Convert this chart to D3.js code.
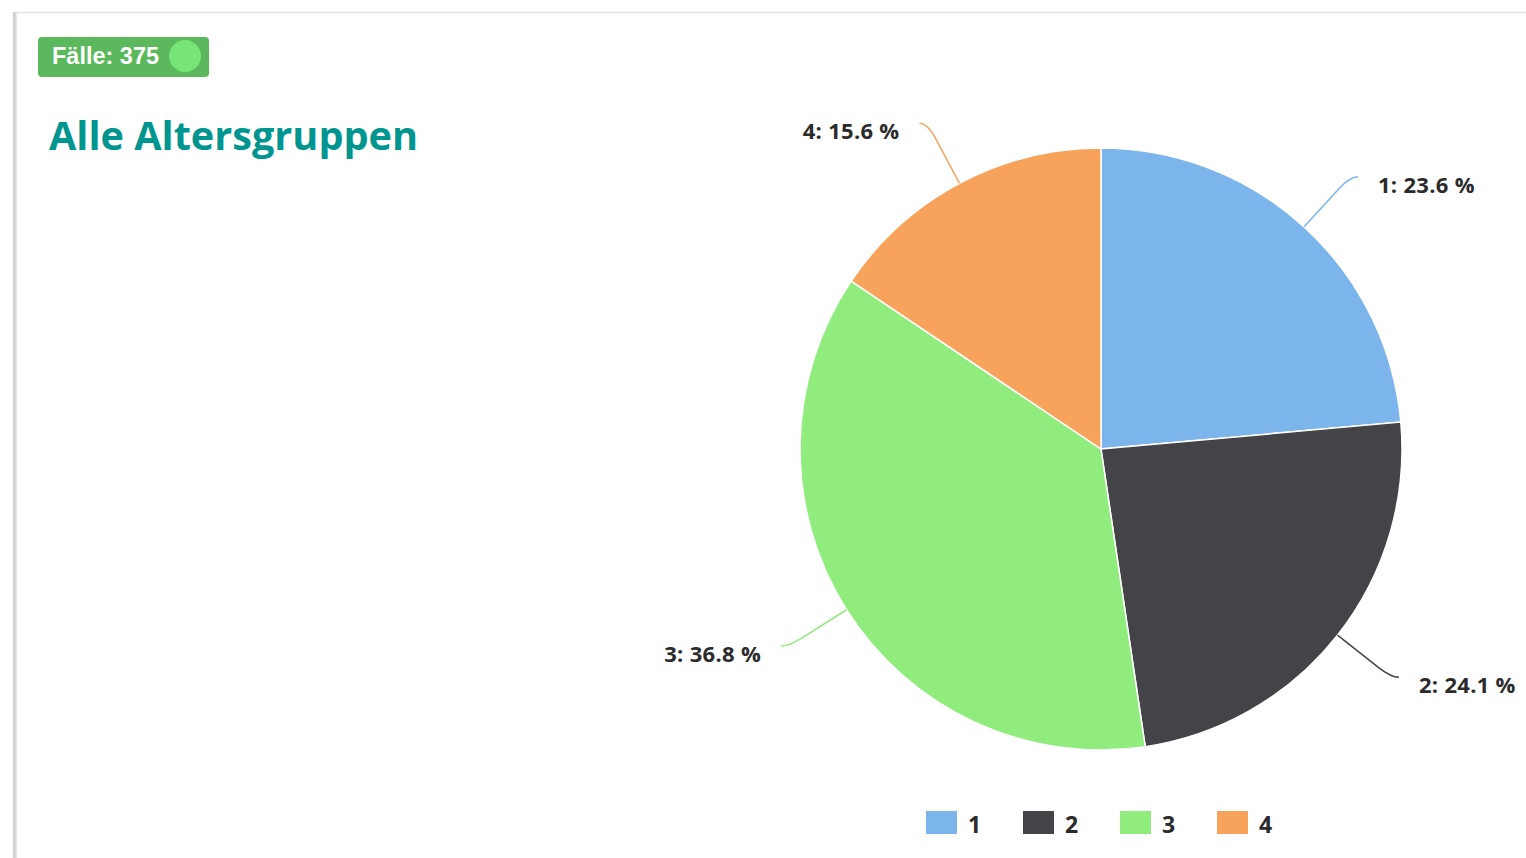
<!DOCTYPE html>
<html>
<head>
<meta charset="utf-8">
<script src="https://cdn.jsdelivr.net/npm/d3@7"></script>
<style>
  html, body { margin: 0; padding: 0; background: #fff; }
  svg { display: block; }
</style>
</head>
<body>
<svg id="chart" width="1526" height="858"></svg>
<script>
// Age groups and their share of cases (percent)
const categories = ["1", "2", "3", "4"];
const shares = [23.6, 24.1, 36.8, 15.6];
const colors = ["#7cb5ec", "#434348", "#90ed7d", "#f7a35c"];
const caseCount = 375;
const title = "Alle Altersgruppen";

const svg = d3.select("#chart");
const W = 1526, H = 858;

// card frame with a soft left shadow
const defs = svg.append("defs");
const grad = defs.append("linearGradient").attr("id", "shadowL").attr("x1", 0).attr("x2", 1);
grad.append("stop").attr("offset", 0).attr("stop-color", "#fff");
grad.append("stop").attr("offset", 0.45).attr("stop-color", "#c8c8c8");
grad.append("stop").attr("offset", 1).attr("stop-color", "#eeeeee");
svg.append("rect").attr("x", 12).attr("y", 12).attr("width", 5).attr("height", H - 12)
  .attr("fill", "url(#shadowL)");
svg.append("line").attr("x1", 15).attr("x2", W).attr("y1", 12.5).attr("y2", 12.5)
  .attr("stroke", "#e4e4e4").attr("stroke-width", 1.5);

// case count badge
const badge = svg.append("g").attr("transform", "translate(38,37)");
badge.append("rect").attr("width", 171).attr("height", 40).attr("rx", 4)
  .attr("fill", "#5cb85c");
badge.append("text").attr("x", 14).attr("y", 27)
  .attr("font-family", "Liberation Sans, Arial, sans-serif")
  .attr("font-weight", "bold").attr("font-size", 23).attr("fill", "#fff")
  .attr("textLength", 107).attr("lengthAdjust", "spacingAndGlyphs")
  .text("Fälle: " + caseCount);
badge.append("circle").attr("cx", 147).attr("cy", 19).attr("r", 16)
  .attr("fill", "#77e477");

// title
svg.append("text").attr("x", 49).attr("y", 150)
  .attr("font-family", "Open Sans, sans-serif").attr("font-weight", "bold")
  .attr("font-size", 40).attr("fill", "#00968f")
  .attr("textLength", 369).attr("lengthAdjust", "spacingAndGlyphs")
  .text(title);

// pie
const cx = 1101, cy = 449, r = 301;
const pie = d3.pie().sort(null).value(d => d)(shares);
const arc = d3.arc().innerRadius(0).outerRadius(r);
const g = svg.append("g").attr("transform", `translate(${cx},${cy})`);

g.selectAll("path.slice").data(pie).join("path")
  .attr("class", "slice")
  .attr("d", arc)
  .attr("fill", (d, i) => colors[i])
  .attr("stroke", "#fff").attr("stroke-width", 1.5);

const polar = (a, rad) => [Math.sin(a) * rad, -Math.cos(a) * rad];

// connectors and data labels
pie.forEach((d, i) => {
  const a = (d.startAngle + d.endAngle) / 2;
  const side = Math.sin(a) >= 0 ? 1 : -1;
  const p0 = polar(a, r);
  const p1 = polar(a, r + 52);
  const pc = polar(a, r + 68);
  const end = [pc[0] + side * 8, pc[1]];
  g.append("path")
    .attr("d", `M${p0[0]},${p0[1]} L${p1[0]},${p1[1]} Q${pc[0]},${pc[1]} ${end[0]},${end[1]}`)
    .attr("fill", "none").attr("stroke", colors[i]).attr("stroke-width", 1.5);
  g.append("text")
    .attr("x", end[0] + side * 20).attr("y", end[1] + 16)
    .attr("text-anchor", side > 0 ? "start" : "end")
    .attr("font-family", "Open Sans, sans-serif").attr("font-weight", "bold")
    .attr("font-size", 22).attr("letter-spacing", 0.3).attr("fill", "#2b2b2b")
    .text(`${categories[i]}: ${d3.format(".1f")(shares[i])} %`);
});

// legend
const legend = svg.append("g").attr("transform", "translate(926,811)");
const item = legend.selectAll("g").data(categories).join("g")
  .attr("transform", (d, i) => `translate(${i * 97},0)`);
item.append("rect").attr("width", 31).attr("height", 23).attr("fill", (d, i) => colors[i]);
item.append("text").attr("x", 42).attr("y", 22)
  .attr("font-family", "Open Sans, sans-serif").attr("font-weight", "bold")
  .attr("font-size", 23).attr("fill", "#2b2b2b").text(d => d);
</script>
</body>
</html>
